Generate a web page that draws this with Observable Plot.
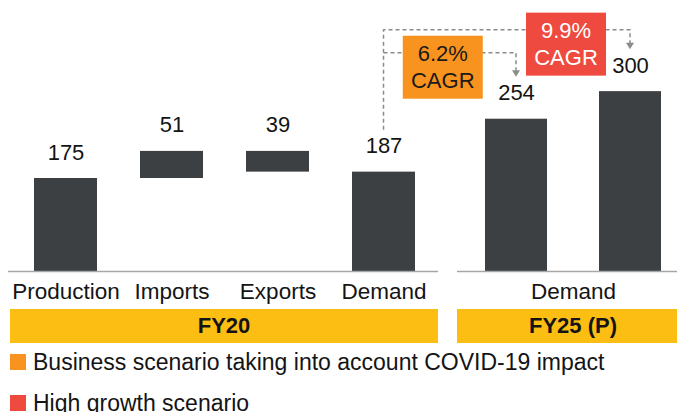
<!DOCTYPE html>
<html>
<head>
<meta charset="utf-8">
<script src="https://cdn.jsdelivr.net/npm/d3@7"></script>
<script src="https://cdn.jsdelivr.net/npm/@observablehq/plot@0.6"></script>
<style>
  body { margin: 0; background: #fff; font-family: "Liberation Sans", Arial, sans-serif; }
  #wrap { position: relative; width: 677px; height: 412px; overflow: hidden; background: #fff; }
  #wrap svg { position: absolute; left: 0; top: 0; max-width: none !important; }
  .band { position: absolute; top: 309px; height: 34px; background: #FDBE13; font-weight: bold; font-size: 22px;
          display: flex; align-items: center; justify-content: center; color: #141414; }
  .leg { position: absolute; left: 10px; height: 26px; font-size: 23px; display: flex; align-items: center; color: #141414; white-space: nowrap; }
  .leg i { display: inline-block; width: 16px; height: 16px; margin-right: 7px; }
</style>
</head>
<body>
<div id="wrap"></div>
<script>
// ---- data ----
const fy20Categories = ["Production", "Imports", "Exports", "Demand"];
const fy20Values = [175, 51, 39, 187];
const fy20Steps = ["total", "increase", "decrease", "total"];

const fy25Scenarios = ["Business scenario taking into account COVID-19 impact", "High growth scenario"];
const fy25Values = [254, 300];
const fy25Category = "Demand";
const cagrLabels = ["6.2%", "9.9%"];
const scenarioColors = ["#F7931E", "#EF4A40"];
const cagrTextColors = ["#1a1a1a", "#ffffff"];
const periodLabels = ["FY20", "FY25 (P)"];

// ---- derived tables ----
let run = 0;
const fy20Data = fy20Categories.map((category, i) => {
  const v = fy20Values[i];
  let y1, y2;
  if (fy20Steps[i] === "total") { y1 = 0; y2 = v; run = v; }
  else if (fy20Steps[i] === "increase") { y1 = run; y2 = run + v; run = y2; }
  else { y1 = run - v; y2 = run; run = y1; }
  return { category, value: v, y1, y2, top: Math.max(y1, y2) };
});
const fy25Data = fy25Scenarios.map((scenario, i) => ({ scenario, value: fy25Values[i] }));

const BAR = "#3d4043";
const AXIS = "#a6a6a6";
const FONT = "'Liberation Sans', Arial, Helvetica, sans-serif";
const style = { fontFamily: FONT, fontSize: "22px", background: "transparent", overflow: "visible", color: "#141414", maxWidth: "none" };

const wrap = document.getElementById("wrap");

// ---- FY20 panel ----
const plotA = Plot.plot({
  width: 677, height: 306,
  marginLeft: 8, marginRight: 239, marginTop: 0, marginBottom: 35,
  style,
  x: { domain: fy20Categories, paddingInner: 0.41, paddingOuter: 0.22, align: 0.53, axis: null, label: null },
  y: { domain: [0, 510], axis: null },
  marks: [
    Plot.barY(fy20Data, { x: "category", y1: "y1", y2: "y2", fill: BAR }),
    Plot.ruleY([0], { stroke: AXIS, strokeWidth: 1.5 }),
    Plot.text(fy20Data, { x: "category", y: "top", text: d => String(d.value), dy: -26, fontSize: 22 }),
    Plot.axisX({ tickSize: 0, tickPadding: 12, fontSize: 22.5, label: null })
  ]
});
wrap.appendChild(plotA);

// ---- FY25 panel ----
const plotB = Plot.plot({
  width: 689, height: 306,
  marginLeft: 457, marginRight: 0, marginTop: 0, marginBottom: 35,
  style,
  x: { domain: fy25Scenarios, paddingInner: 0.452, paddingOuter: 0.235, axis: null },
  y: { domain: [0, 452], axis: null },
  marks: [
    Plot.barY(fy25Data, { x: "scenario", y: "value", fill: BAR }),
    Plot.ruleY([0], { stroke: AXIS, strokeWidth: 1.5 }),
    Plot.text(fy25Data, { x: "scenario", y: "value", text: d => String(d.value), dy: -26, fontSize: 22 }),
    Plot.text([fy25Category], { frameAnchor: "bottom", text: d => d, lineAnchor: "top", dy: 12, fontSize: 22.5 })
  ]
});
plotB.style.maxWidth = "none";
plotA.style.maxWidth = "none";
wrap.appendChild(plotB);

// ---- CAGR annotations (positions from the plots' scales) ----
const xA = plotA.scale("x"), yA = plotA.scale("y");
const xB = plotB.scale("x"), yB = plotB.scale("y");
const startX = xA.apply("Demand") + xA.bandwidth / 2;
const startY = yA.apply(fy20Values[3]) - 42;
const targets = fy25Scenarios.map((s, i) => ({
  x: xB.apply(s) + xB.bandwidth / 2,
  top: yB.apply(fy25Values[i])
}));
const levels = [targets[0].top - 66, targets[1].top - 61.5];
const g = d3.select(plotB).append("g");
const GREY = "#8c8c8c";
targets.forEach((t, i) => {
  const tip = t.top - 42;
  const path = i === 1
    ? `M${startX},${startY}V${levels[i]}H${t.x}V${tip - 6}`
    : `M${startX},${levels[i]}H${t.x}V${tip - 6}`;
  g.append("path").attr("d", path).attr("fill", "none").attr("stroke", GREY)
    .attr("stroke-width", 1.5).attr("stroke-dasharray", "4,3");
  g.append("path").attr("d", `M${t.x - 4},${tip - 6.5}L${t.x + 4},${tip - 6.5}L${t.x},${tip}Z`).attr("fill", GREY);
});
const prevX = [startX, targets[0].x];
targets.forEach((t, i) => {
  const cx = (prevX[i] + t.x) / 2 - 7;
  const cy = levels[i] + 14.5;
  g.append("rect").attr("x", cx - 40).attr("y", cy - 31.5).attr("width", 80).attr("height", 63)
    .attr("fill", scenarioColors[i]);
  const tx = g.append("text").attr("x", cx).attr("text-anchor", "middle").attr("font-size", 22)
    .attr("fill", cagrTextColors[i]).attr("font-family", FONT);
  tx.append("tspan").attr("x", cx).attr("y", cy - 14).attr("dy", "0.36em").text(cagrLabels[i]);
  tx.append("tspan").attr("x", cx).attr("y", cy + 12.5).attr("dy", "0.36em").text("CAGR");
});

// ---- period bands ----
const bands = [
  { label: periodLabels[0], left: 10, width: 428 },
  { label: periodLabels[1], left: 457, width: 232 }
];
bands.forEach(b => {
  const d = document.createElement("div");
  d.className = "band";
  d.style.left = b.left + "px";
  d.style.width = b.width + "px";
  d.textContent = b.label;
  wrap.appendChild(d);
});

// ---- legend ----
const legTops = [349, 390];
fy25Scenarios.forEach((s, i) => {
  const d = document.createElement("div");
  d.className = "leg";
  d.style.top = legTops[i] + "px";
  const sw = document.createElement("i");
  sw.style.background = scenarioColors[i];
  d.appendChild(sw);
  d.appendChild(document.createTextNode(s));
  wrap.appendChild(d);
});
</script>
</body>
</html>
